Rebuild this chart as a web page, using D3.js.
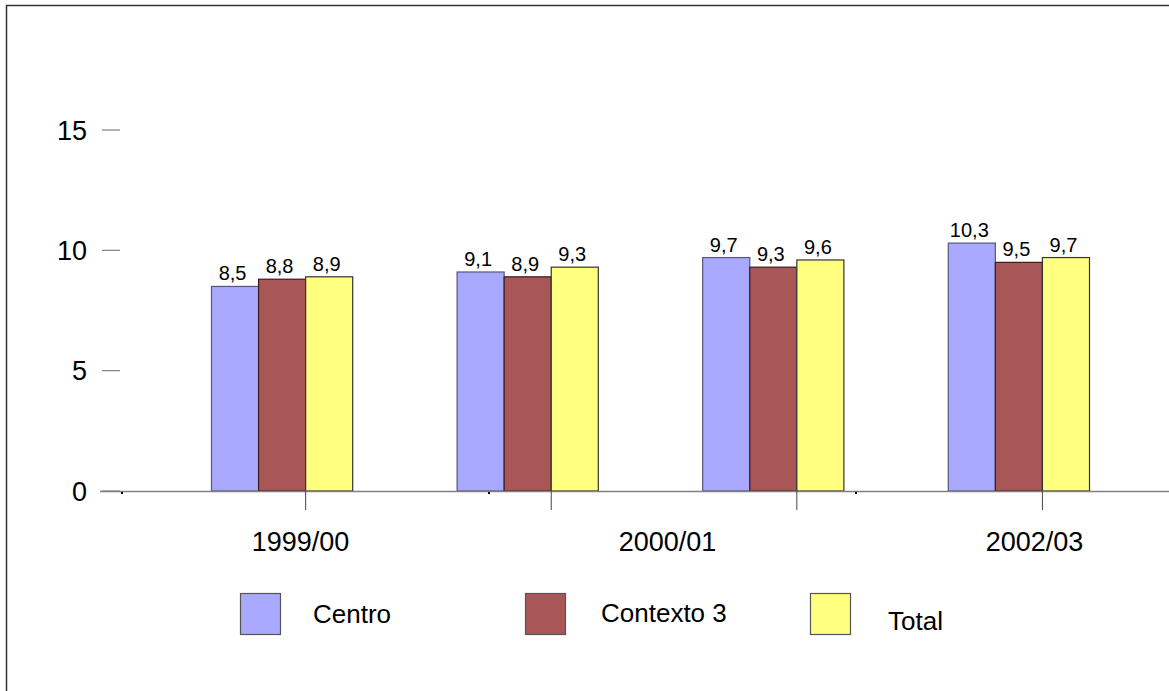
<!DOCTYPE html>
<html>
<head>
<meta charset="utf-8">
<script src="https://cdn.jsdelivr.net/npm/d3@7"></script>
<style>
  html, body { margin: 0; padding: 0; background: #fff; }
  svg { display: block; font-family: "Liberation Sans", Arial, sans-serif; }
</style>
</head>
<body>
<svg id="chart" width="1169" height="691"></svg>
<script>
// Group periods (one group of bars each) and the labels printed under the axis
const periods = ["1999/00", "2000/01", "2001/02", "2002/03"];
const axisLabels = ["1999/00", "2000/01", "2002/03"];
const seriesNames = ["Centro", "Contexto 3", "Total"];
const centro = [8.5, 9.1, 9.7, 10.3];
const contexto3 = [8.8, 8.9, 9.3, 9.5];
const total = [8.9, 9.3, 9.6, 9.7];
const yTicks = [0, 5, 10, 15];

const seriesValues = [centro, contexto3, total];
const colors = ["#a9aaff", "#a95656", "#ffff80"];
const strokes = ["#55557f", "#3a1c1c", "#333333"];

const svg = d3.select("#chart");

// frame around the chart area
svg.append("rect")
  .attr("x", 6.5).attr("y", 5.5)
  .attr("width", 1200).attr("height", 720)
  .attr("fill", "none").attr("stroke", "#333").attr("stroke-width", 1.5);

const y = d3.scaleLinear().domain([0, 15]).range([491, 130]);

const x0 = d3.scaleBand().domain(periods).range([211, 1089]).paddingInner(0.425).paddingOuter(0);
const x1 = d3.scaleBand().domain(seriesNames).range([0, x0.bandwidth()]);
const xLab = d3.scaleBand().domain(axisLabels).range([117, 1218]);

// y ticks: short dashes with labels to the left, no axis line
const yAxis = svg.append("g");
yTicks.forEach(t => {
  yAxis.append("line")
    .attr("x1", 102).attr("x2", 120)
    .attr("y1", y(t)).attr("y2", y(t))
    .attr("stroke", "#808080").attr("stroke-width", 1.2);
  yAxis.append("text")
    .attr("x", 87).attr("y", y(t))
    .attr("dy", "0.36em")
    .attr("text-anchor", "end")
    .attr("font-size", 27)
    .attr("fill", "#000")
    .text(t);
});

// bars
const groups = svg.append("g").selectAll("g")
  .data(periods)
  .join("g")
  .attr("transform", d => `translate(${x0(d)},0)`);

groups.each(function(p, i) {
  const g = d3.select(this);
  seriesNames.forEach((s, j) => {
    const v = seriesValues[j][i];
    g.append("rect")
      .attr("x", x1(s) + 0.5)
      .attr("y", y(v))
      .attr("width", x1.bandwidth())
      .attr("height", y(0) - y(v))
      .attr("fill", colors[j])
      .attr("stroke", strokes[j])
      .attr("stroke-width", 1.2);
    g.append("text")
      .attr("x", x1(s) + x1.bandwidth() / 2 - 2)
      .attr("y", y(v) - 6)
      .attr("text-anchor", "middle")
      .attr("font-size", 20)
      .attr("fill", "#000")
      .text(String(v).replace(".", ","));
  });
});

// x axis line
svg.append("line")
  .attr("x1", 100).attr("x2", 1169)
  .attr("y1", y(0) + 0.5).attr("y2", y(0) + 0.5)
  .attr("stroke", "#808080").attr("stroke-width", 1.5);

// x ticks hang below the axis at the right edge of each middle bar
periods.forEach(p => {
  const tx = x0(p) + x1(seriesNames[2]) + 0.5;
  svg.append("line")
    .attr("x1", tx).attr("x2", tx)
    .attr("y1", y(0)).attr("y2", y(0) + 19)
    .attr("stroke", "#444").attr("stroke-width", 1);
});

// small marks on the axis at the start of each label band
axisLabels.forEach(l => {
  svg.append("rect")
    .attr("x", xLab(l) + 4).attr("y", y(0) + 1)
    .attr("width", 2).attr("height", 2)
    .attr("fill", "#000");
});

// axis labels
svg.append("g").selectAll("text")
  .data(axisLabels)
  .join("text")
  .attr("x", d => xLab(d) + xLab.bandwidth() / 2)
  .attr("y", 551)
  .attr("text-anchor", "middle")
  .attr("font-size", 27)
  .attr("fill", "#000")
  .text(d => d);

// legend
const legendX = d3.scalePoint().domain(seriesNames).range([240, 810]);
const textOffset = [73, 76, 78];
const textBase = [623, 622, 630];
seriesNames.forEach((s, j) => {
  svg.append("rect")
    .attr("x", legendX(s) + 0.5).attr("y", 593.5)
    .attr("width", 40).attr("height", 41)
    .attr("fill", colors[j])
    .attr("stroke", "#555").attr("stroke-width", 1.2);
  svg.append("text")
    .attr("x", legendX(s) + textOffset[j])
    .attr("y", textBase[j])
    .attr("font-size", 26)
    .attr("fill", "#000")
    .text(s);
});
</script>
</body>
</html>
